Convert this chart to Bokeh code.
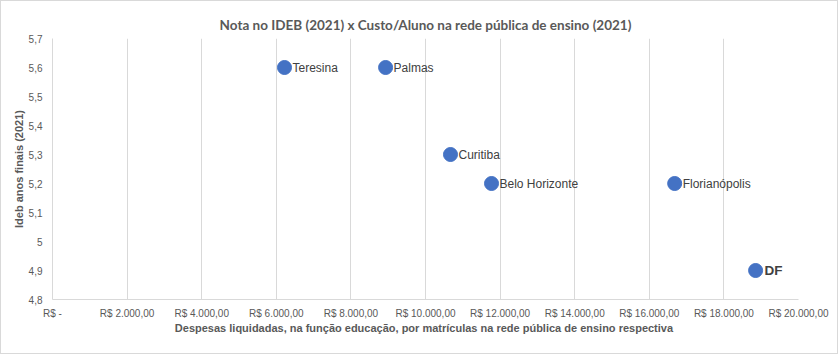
from bokeh.plotting import figure
from bokeh.models import ColumnDataSource, FixedTicker, Range1d
from bokeh.embed import file_html
from bokeh.resources import INLINE

cities = ["Teresina", "Palmas", "Curitiba", "Belo Horizonte", "Florianópolis", "DF"]
custo = [6220, 8930, 10670, 11770, 16680, 18850]
ideb = [5.6, 5.6, 5.3, 5.2, 5.2, 4.9]
x_ticks = [0, 2000, 4000, 6000, 8000, 10000, 12000, 14000, 16000, 18000, 20000]
x_tick_labels = ["R$ -", "R$ 2.000,00", "R$ 4.000,00", "R$ 6.000,00", "R$ 8.000,00",
                 "R$ 10.000,00", "R$ 12.000,00", "R$ 14.000,00", "R$ 16.000,00",
                 "R$ 18.000,00", "R$ 20.000,00"]
y_ticks = [4.8, 4.9, 5.0, 5.1, 5.2, 5.3, 5.4, 5.5, 5.6, 5.7]
y_tick_labels = ["4,8", "4,9", "5", "5,1", "5,2", "5,3", "5,4", "5,5", "5,6", "5,7"]
title_text = "Nota no IDEB (2021) x Custo/Aluno na rede pública de ensino (2021)"

p = figure(width=838, height=354, output_backend="svg", toolbar_location=None,
           x_range=Range1d(0, 20000), y_range=Range1d(4.8, 5.7),
           min_border_left=51, min_border_right=41, min_border_top=37, min_border_bottom=56)
p.styles = {"border": "1px solid #d9d9d9"}
p.background_fill_color = "white"
p.border_fill_color = "white"
p.outline_line_color = None

p.title.text = title_text
p.title.align = "center"
p.title.vertical_align = "middle"
p.title.text_font = "Lato"
p.title.text_font_size = "13.5px"
p.title.text_font_style = "bold"
p.title.text_color = "#595959"
p.title.offset = 0

p.xaxis.ticker = FixedTicker(ticks=x_ticks)
p.xaxis.major_label_overrides = {t: l for t, l in zip(x_ticks, x_tick_labels)}
p.yaxis.ticker = FixedTicker(ticks=y_ticks)
p.yaxis.major_label_overrides = {t: l for t, l in zip(y_ticks, y_tick_labels)}

for ax in (p.xaxis, p.yaxis):
    ax.axis_line_color = "#d9d9d9"
    ax.major_tick_line_color = None
    ax.minor_tick_line_color = None
    ax.major_label_text_font = "Liberation Sans"
    ax.major_label_text_font_size = "10px"
    ax.major_label_text_color = "#595959"
    ax.axis_label_text_font = "Liberation Sans"
    ax.axis_label_text_font_size = "11px"
    ax.axis_label_text_font_style = "bold"
    ax.axis_label_text_color = "#595959"

p.xaxis.axis_label = "Despesas liquidadas,  na função educação, por matrículas na rede pública de ensino respectiva"
p.yaxis.axis_label = "Ideb anos finais (2021)"
p.xaxis.major_label_standoff = 2
p.yaxis.major_label_standoff = 4
p.xaxis.axis_label_standoff = 0
p.yaxis.axis_label_standoff = 1

p.xgrid.grid_line_color = "#d9d9d9"
p.ygrid.grid_line_color = None

src = ColumnDataSource(dict(x=custo, y=ideb, name=cities))
p.scatter("x", "y", source=src, size=14, fill_color="#4472c4", line_color="#4472c4")

normal = ColumnDataSource(dict(x=custo[:-1], y=ideb[:-1], name=cities[:-1]))
p.text("x", "y", text="name", source=normal, x_offset=8, text_baseline="middle",
       text_font_size="12px", text_color="#404040", text_font={"value": "Liberation Sans"})
bold = ColumnDataSource(dict(x=custo[-1:], y=ideb[-1:], name=cities[-1:]))
p.text("x", "y", text="name", source=bold, x_offset=9, text_baseline="middle",
       text_font_size="13.5px", text_font_style="bold", text_color="#404040",
       text_font={"value": "Liberation Sans"})

open("out.html", "w").write(file_html(p, INLINE))
